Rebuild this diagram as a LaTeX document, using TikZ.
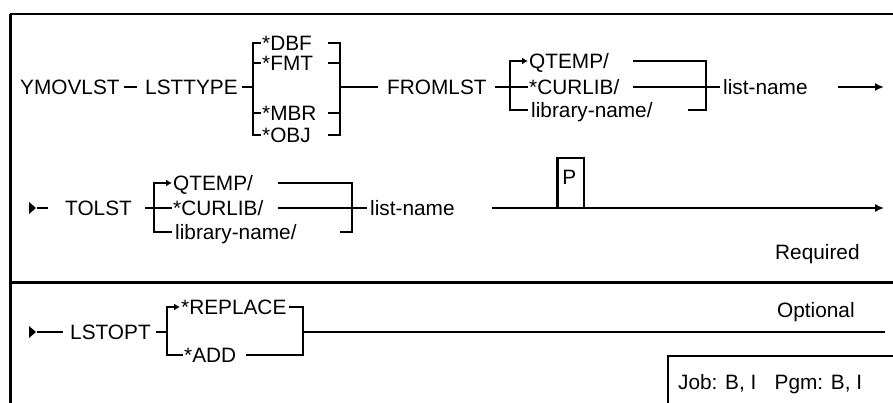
\documentclass[tikz,border=0pt]{standalone}
\usepackage{fontspec}
\setmainfont{Liberation Sans}
\usetikzlibrary{arrows.meta}
\newcommand\synfont{\fontsize{20.8}{24}\selectfont}
\tikzset{
  lbl/.style={font=\synfont, inner sep=0pt, anchor=west, text height=14.9pt, text depth=0pt},
  thn/.style={line width=1.6pt},
  thk/.style={line width=2.8pt},
  endtip/.style={-{Latex[length=9pt,width=8pt]}},
  starttip/.style={{Latex[length=6pt,width=7pt]}-},
}

\begin{document}
\begin{tikzpicture}[x=1pt, y=-1pt]
\useasboundingbox (0,0) rectangle (893,403);

% Frame
\draw[line width=3pt] (10,14) -- (10,403);
\draw[line width=2pt] (10,14) -- (893,14);
\draw[line width=3pt] (10,282) -- (893,282);

% Row 1: command, list type
\node[lbl] (ymov) at (20,87) {YMOVLST};
\node[lbl] (lsttype) at (145,87) {LSTTYPE};
\node[lbl] (dbf) at (262,43) {*DBF};
\node[lbl] (fmt) at (262,63) {*FMT};
\node[lbl] (mbr) at (262,113) {*MBR};
\node[lbl] (obj) at (262,135) {*OBJ};
\node[lbl] (fromlst) at (387,87) {FROMLST};
\coordinate (t1l) at (253,87);
\coordinate (t1s) at (328,87);
\coordinate (t1r) at (340,87);

\draw[thk] ([xshift=4pt]ymov.east) -- ([xshift=-8pt]lsttype.west);
\draw[thk] ([xshift=4pt]lsttype.east) -- (t1l);
\draw[thk] ([xshift=-1pt]dbf.west) -| (t1l) |- ([xshift=-1pt]obj.west);
\draw[thk] (t1l |- fmt) -- ([xshift=-1pt]fmt.west);
\draw[thk] (t1l |- mbr) -- ([xshift=-1pt]mbr.west);
\draw[thk] (t1s |- dbf) -| (t1r) |- (t1s |- obj);
\draw[thk] (t1s |- fmt) -- (t1r |- fmt);
\draw[thk] (t1s |- mbr) -- (t1r |- mbr);
\draw[thk] (t1r) -- ([xshift=-9pt]fromlst.west);

% Row 1: from list
\node[lbl] (qtemp) at (529,61) {QTEMP/};
\node[lbl] (curlib) at (529,87) {*CURLIB/};
\node[lbl] (libname) at (531,110) {library-name/};
\node[lbl] (lname) at (723,87) {list-name};
\coordinate (f1l) at (510,87);
\coordinate (f1s) at (633,87);
\coordinate (f1r) at (706,87);
\coordinate (r1end) at (884,87);

\draw[thn] ([xshift=8pt]fromlst.east) -- (f1l);
\draw[thk, starttip] ([xshift=-1pt]qtemp.west) -| (f1l) |- ([xshift=-3pt]libname.west);
\draw[thn] (f1l) -- ([xshift=-1pt]curlib.west);
\draw[thk] (f1s |- qtemp) -| (f1r) |- ([xshift=35pt]libname.east);
\draw[thk] (f1s) -- (f1r);
\draw[thn] (f1r) -- ([xshift=-3pt]lname.west);
\draw[thk, endtip] ([xshift=30pt]lname.east) -- (r1end);

% Row 2: to list
\coordinate (s2) at (29,208);
\fill (s2) ++(0,-6) -- ++(7,6) -- ++(-7,6) -- cycle;
\node[lbl] (tolst) at (65,208) {TOLST};
\node[lbl] (qtemp2) at (173,183) {QTEMP/};
\node[lbl] (curlib2) at (173,208) {*CURLIB/};
\node[lbl] (libname2) at (175,232) {library-name/};
\node[lbl] (lname2) at (370,208) {list-name};
\coordinate (f2l) at (154,208);
\coordinate (f2s) at (278,208);
\coordinate (f2r) at (352,208);
\coordinate (r2end) at (884,208);

\draw[thn] ([xshift=8pt]s2) -- ([xshift=-17pt]tolst.west);
\draw[thn] ([xshift=13pt]tolst.east) -- (f2l);
\draw[thk, starttip] ([xshift=-1pt]qtemp2.west) -| (f2l) |- ([xshift=-3pt]libname2.west);
\draw[thn] (f2l) -- ([xshift=-1pt]curlib2.west);
\draw[thk] (f2s |- qtemp2) -| (f2r) |- ([xshift=43pt]libname2.east);
\draw[thn] (f2s) -- (f2r);
\draw[thn] (f2r) -- ([xshift=-3pt]lname2.west);
\draw[thn, endtip] ([xshift=37pt]lname2.east) -- (r2end);

% Positional marker
\node[draw, thn, minimum width=26pt, minimum height=50pt, inner sep=0pt] (pbox) at (571,183) {};
\draw[thk] (pbox.south west) -- (pbox.north west);
\node[lbl, anchor=north west] (ptxt) at ([xshift=5pt,yshift=-12pt]pbox.north west) {P};
\node[lbl] (req) at (775,252) {Required};

% Row 3: list option
\coordinate (s3) at (29,332);
\fill (s3) ++(0,-6) -- ++(7,6) -- ++(-7,6) -- cycle;
\node[lbl] (lstopt) at (70,332) {LSTOPT};
\node[lbl] (repl) at (181,307) {*REPLACE};
\node[lbl] (add) at (184,355) {*ADD};
\coordinate (o3l) at (167,332);
\coordinate (o3r) at (303,332);
\coordinate (o3end) at (885,332);

\draw[thn] ([xshift=8pt]s3) -- ([xshift=-7pt]lstopt.west);
\draw[thn] ([xshift=5pt]lstopt.east) -- (o3l);
\draw[thk, starttip] ([xshift=-1pt]repl.west) -| (o3l) |- ([xshift=-1pt]add.west);
\draw[thk] ([xshift=2pt]repl.east) -| (o3r) |- ([xshift=10pt]add.east);
\draw[thn] (o3r) -- (o3end);
\node[lbl] (opt) at (777,310) {Optional};

% Threadsafe box
\draw[thn] (893,356) -- (668,356) -- (668,403);
\node[lbl] (job) at (678,382) {Job: B, I\hspace{0.6em} Pgm: B, I};

\end{tikzpicture}
\end{document}
